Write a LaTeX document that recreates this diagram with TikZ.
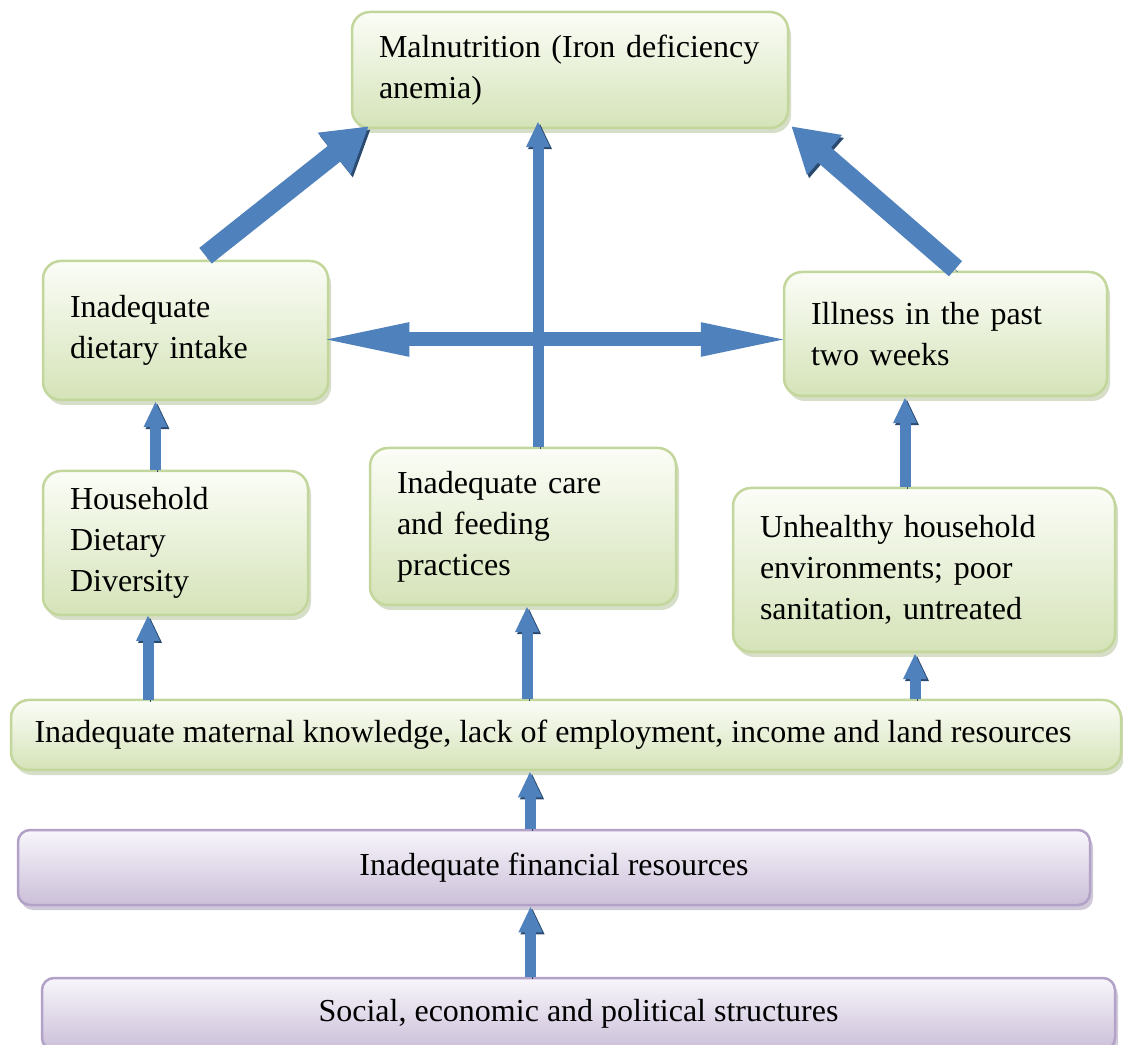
\documentclass[tikz,border=0pt]{standalone}
\usepackage{fontspec}
\setmainfont{Liberation Serif}
\usetikzlibrary{arrows.meta, positioning, shadows}

\definecolor{greenline}{HTML}{C3D69B}
\definecolor{greentop}{HTML}{FBFDF7}
\definecolor{greenbot}{HTML}{D5E3B8}
\definecolor{greenshade}{HTML}{AFBE93}
\definecolor{purpline}{HTML}{B3A2C7}
\definecolor{purptop}{HTML}{F8F6FB}
\definecolor{purpbot}{HTML}{CBBFD9}
\definecolor{purpshade}{HTML}{A397B3}
\definecolor{arrowblue}{HTML}{4F81BD}
\definecolor{arrowdark}{HTML}{2A4A70}

\tikzset{
  greenbox/.style  = {draw=greenline, line width=2.5pt, rounded corners=18pt,
                      top color=greentop, bottom color=greenbot,
                      drop shadow={shadow xshift=3pt, shadow yshift=-5pt, fill=greenshade},
                      align=left, inner xsep=27pt, font=\fontsize{32}{41}\selectfont},
  purplebox/.style = {draw=purpline, line width=2.5pt, rounded corners=12pt,
                      top color=purptop, bottom color=purpbot,
                      drop shadow={shadow xshift=3pt, shadow yshift=-5pt, fill=purpshade},
                      align=center, font=\fontsize{32}{41}\selectfont},
  fatarrow/.style  = {draw=arrowblue, line width=20pt, -{Triangle[width=50pt, length=44pt]},
                      preaction={draw=arrowdark, transform canvas={shift={(2pt,-3pt)}}}},
  longarrow/.style = {draw=arrowblue, line width=14pt,
                      {Triangle[width=30pt, length=92pt]}-{Triangle[width=30pt, length=92pt]},
                      preaction={draw=arrowdark, transform canvas={shift={(0pt,-4pt)}}}},
  thinarrow/.style = {draw=arrowblue, line width=11pt, -{Triangle[width=22pt, length=26pt]},
                      preaction={draw=arrowdark, transform canvas={shift={(2pt,-2pt)}}}},
}

\begin{document}
\begin{tikzpicture}[x=1pt, y=1pt]

\useasboundingbox [fill=white] (0,0) rectangle (1123,1044);

\node [greenbox , text width=382pt, minimum height=116pt] (mal)  at (570,974)   {Malnutrition (Iron deficiency\\anemia)};
\node [greenbox , text width=231pt, minimum height=139pt] (diet) at (185.5,713.5) {Inadequate\\dietary intake};
\node [greenbox , text width=269pt, minimum height=124pt] (ill)  at (945.5,710) {Illness in the past\\two weeks};
\node [greenbox , text width=211pt, minimum height=144pt] (hdd)  at (175.5,501) {Household\\Dietary\\Diversity};
\node [greenbox , text width=252pt, minimum height=157pt] (care) at (523,517.5) {Inadequate care\\and feeding\\practices};
\node [greenbox , text width=328pt, minimum height=164pt] (env)  at (924,474)   {Unhealthy household\\environments; poor\\sanitation, untreated};
\node [greenbox , align=center, minimum width=1110pt, minimum height=70pt] (know) at (566,309)
      {\hspace*{-26pt}Inadequate maternal knowledge, lack of employment, income and land resources};
\node [purplebox, minimum width=1072pt, minimum height=75pt] (fin) at (554,176.5) {Inadequate financial resources};
\node [purplebox, minimum width=1073pt, minimum height=72pt] (soc) at (578.5,30)  {Social, economic and political structures};

% arrows into the top box
\path [fatarrow ] ([xshift=20pt, yshift=4pt]diet.north) -- ([xshift=18pt, yshift=3pt]mal.south west);
\path [fatarrow ] ([xshift=10pt, yshift=2pt]ill.north)  -- ([xshift=2pt, yshift=3pt]mal.south east);
\path [longarrow] ([xshift=-12pt, yshift=-9pt]diet.east) -- ([xshift=10pt, yshift=-9pt]diet.east -| ill.west);
\path [thinarrow] ([xshift=15pt]care.north) -- ([xshift=-32pt, yshift=8pt]mal.south);

% arrows between the middle boxes
\path [thinarrow] ([xshift=-20pt]hdd.north) -- ([xshift=-20pt]hdd.north |- diet.south);
\path [thinarrow] ([xshift=-19pt]env.north) -- ([xshift=-19pt]env.north |- ill.south);

% arrows from the lower boxes
\path [thinarrow] (148,344) -- (148,429);
\path [thinarrow] ([xshift=-39pt]know.north) -- ([xshift=-39pt]know.north |- care.south);
\path [thinarrow] ([xshift=349pt]know.north) -- ([xshift=349pt]know.north |- env.south);
\path [thinarrow] ([xshift=-24pt]fin.north)  -- ([xshift=-24pt]fin.north |- know.south);
\path [thinarrow] ([xshift=-48pt]soc.north)  -- ([xshift=-48pt]soc.north |- fin.south);

\end{tikzpicture}
\end{document}
